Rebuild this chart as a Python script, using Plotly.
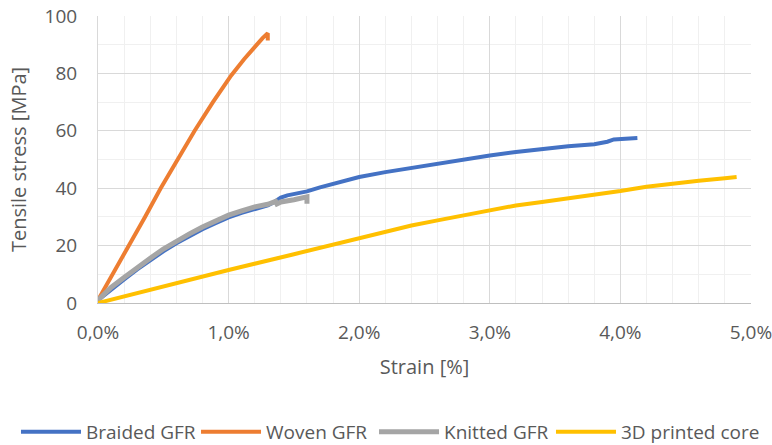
import plotly.graph_objects as go

# Strain values are fractions (0.01 = 1,0 %), stress in MPa
braided_strain = [0.0, 0.0005, 0.001, 0.002, 0.003, 0.004, 0.005, 0.006, 0.007, 0.008, 0.009, 0.010,
                  0.011, 0.012, 0.013, 0.0135, 0.014, 0.0145, 0.015, 0.016, 0.017, 0.018, 0.019, 0.020,
                  0.022, 0.024, 0.026, 0.028, 0.030, 0.032, 0.034, 0.036, 0.038, 0.0385, 0.039,
                  0.0395, 0.040, 0.041, 0.0413]
braided_stress = [1.0, 2.7, 4.6, 8.2, 11.7, 14.9, 18.0, 20.8, 23.4, 25.7, 27.8, 29.8,
                  31.4, 32.8, 34.0, 35.2, 36.7, 37.5, 38.0, 38.9, 40.3, 41.6, 42.8, 43.9,
                  45.6, 47.1, 48.6, 50.1, 51.4, 52.6, 53.7, 54.6, 55.3, 55.6, 56.2,
                  57.0, 57.2, 57.4, 57.5]

woven_strain = [0.0, 0.0012, 0.0024, 0.0036, 0.0048, 0.006, 0.0074, 0.0088, 0.0102, 0.0112,
                0.0121, 0.0126, 0.0130, 0.0130]
woven_stress = [1.0, 10.5, 20.0, 30.0, 40.0, 49.2, 60.0, 70.0, 79.3, 85.0,
                89.8, 92.3, 94.0, 91.5]

knitted_strain = [0.0, 0.0005, 0.001, 0.002, 0.003, 0.004, 0.005, 0.006, 0.007, 0.008, 0.009,
                  0.010, 0.011, 0.012, 0.013, 0.0136, 0.0137, 0.0140, 0.015, 0.0155, 0.016, 0.016]
knitted_stress = [1.0, 3.4, 5.4, 8.9, 12.4, 15.6, 18.8, 21.6, 24.1, 26.5, 28.6,
                  30.6, 32.1, 33.5, 34.4, 35.4, 34.5, 35.2, 36.0, 36.4, 37.0, 34.6]

core_strain = [0.0, 0.005, 0.010, 0.015, 0.020, 0.022, 0.024, 0.026, 0.028, 0.030,
               0.032, 0.034, 0.036, 0.038, 0.040, 0.042, 0.044, 0.046, 0.048, 0.0489]
core_stress = [0.0, 5.8, 11.5, 17.0, 22.6, 24.9, 27.0, 28.8, 30.5, 32.2,
               34.0, 35.2, 36.4, 37.7, 39.0, 40.5, 41.7, 42.6, 43.5, 43.9]

series_names = ["Braided GFR", "Woven GFR", "Knitted GFR", "3D printed core"]
series_colors = ["#4472C4", "#ED7D31", "#A5A5A5", "#FFC000"]
series_widths = [4, 4, 5, 4]

font_family = "Open Sans, Lato, sans-serif"
text_color = "#595959"

legend_ids = ["legend", "legend2", "legend3", "legend4"]
legend_x = [-0.1256, 0.1501, 0.4227, 0.6937]

fig = go.Figure()
data = [(braided_strain, braided_stress), (woven_strain, woven_stress),
        (knitted_strain, knitted_stress), (core_strain, core_stress)]
for (xs, ys), name, color, w, lid in zip(data, series_names, series_colors, series_widths, legend_ids):
    fig.add_trace(go.Scatter(x=xs, y=ys, mode="lines", name=name, legend=lid,
                             line=dict(color=color, width=w)))

legend_common = dict(orientation="h", xref="paper", yref="paper", xanchor="left",
                     y=-0.449, yanchor="middle", itemwidth=60,
                     font=dict(size=19, color=text_color), bgcolor="rgba(0,0,0,0)")
legend_layout = {lid: dict(legend_common, x=lx) for lid, lx in zip(legend_ids, legend_x)}

fig.update_layout(
    width=772, height=445,
    margin=dict(l=98, r=21, t=16, b=142, autoexpand=False),
    paper_bgcolor="white", plot_bgcolor="white",
    separators=",.",
    font=dict(family=font_family, size=19, color=text_color),
    showlegend=True,
    **legend_layout,
)
fig.update_xaxes(
    range=[0, 0.05], tickformat=".1%", dtick=0.01, tick0=0,
    showgrid=True, gridcolor="#D9D9D9", gridwidth=1,
    minor=dict(dtick=0.002, showgrid=True, gridcolor="#F0F0F0", gridwidth=1),
    showline=True, linecolor="#BFBFBF", linewidth=1, mirror=False,
    zeroline=False, ticks="", ticklabelstandoff=12, automargin=False,
    ticklabeloverflow="allow",
    tickfont=dict(size=19, color=text_color),
    title=dict(text="Strain [%]", standoff=16, font=dict(size=20, color=text_color)),
)
fig.update_yaxes(
    range=[0, 100], dtick=20, tick0=0,
    showgrid=True, gridcolor="#D9D9D9", gridwidth=1,
    minor=dict(dtick=10, showgrid=True, gridcolor="#F0F0F0", gridwidth=1),
    showline=True, linecolor="#D9D9D9", linewidth=1,
    zeroline=False, ticks="", ticklabelstandoff=16, automargin=False,
    tickfont=dict(size=19, color=text_color),
    title=dict(text="Tensile stress [MPa]", standoff=12, font=dict(size=20, color=text_color)),
)

fig.write_html("out.html", config={"displayModeBar": False},
               post_script="document.body.style.margin='0';document.body.style.overflow='hidden';")
